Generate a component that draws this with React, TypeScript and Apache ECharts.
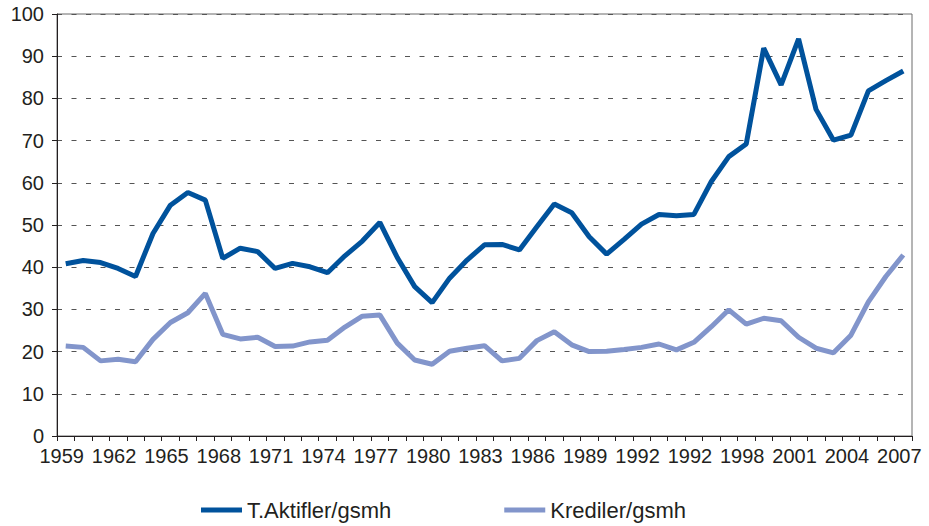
import React, { useEffect, useRef } from "react";
import * as echarts from "echarts";

const years = [
  "1959", "1960", "1961", "1962", "1963", "1964", "1965", "1966", "1967", "1968",
  "1969", "1970", "1971", "1972", "1973", "1974", "1975", "1976", "1977", "1978",
  "1979", "1980", "1981", "1982", "1983", "1984", "1985", "1986", "1987", "1988",
  "1989", "1990", "1991", "1992", "1993", "1994", "1995", "1996", "1997", "1998",
  "1999", "2000", "2001", "2002", "2003", "2004", "2005", "2006", "2007",
];

// Tick labels exactly as printed on the reference (every third year)
const tickLabels = [
  "1959", "1962", "1965", "1968", "1971", "1974", "1977", "1980", "1983",
  "1986", "1989", "1992", "1992", "1998", "2001", "2004", "2007",
];

const aktifler = [
  40.8, 41.6, 41.1, 39.7, 37.8, 48.0, 54.7, 57.7, 55.9, 42.1,
  44.5, 43.7, 39.7, 40.9, 40.1, 38.7, 42.7, 46.2, 50.6, 42.3,
  35.4, 31.6, 37.4, 41.7, 45.3, 45.4, 44.1, 49.6, 55.0, 52.9,
  47.2, 43.1, 46.6, 50.2, 52.5, 52.2, 52.5, 60.3, 66.2, 69.2,
  91.9, 83.2, 94.1, 77.4, 70.1, 71.3, 81.8, 84.2, 86.5,
];

const krediler = [
  21.3, 21.0, 17.8, 18.2, 17.6, 22.9, 26.9, 29.2, 33.8, 24.1,
  23.0, 23.4, 21.2, 21.3, 22.3, 22.7, 25.8, 28.4, 28.7, 22.0,
  18.0, 17.0, 20.1, 20.8, 21.4, 17.8, 18.4, 22.6, 24.7, 21.6,
  20.0, 20.1, 20.5, 21.0, 21.8, 20.4, 22.2, 25.9, 29.9, 26.5,
  27.9, 27.3, 23.4, 20.8, 19.7, 23.9, 31.8, 37.8, 42.9,
];

const seriesNames = ["T.Aktifler/gsmh", "Krediler/gsmh"];

const FONT = "'Liberation Sans', Arial, Helvetica, sans-serif";
const TEXT = "#231f20";
const DARK = "#00529c";
const LIGHT = "#8295cb";

export default function App() {
  const ref = useRef<HTMLDivElement>(null);

  useEffect(() => {
    if (!ref.current) return;
    const chart = echarts.init(ref.current, undefined, { renderer: "svg" });
    chart.setOption({
      animation: false,
      backgroundColor: "#ffffff",
      grid: {
        left: 57,
        right: 17,
        top: 14,
        bottom: 90,
        show: true,
        borderColor: "#6b6b6b",
        borderWidth: 1,
      },
      legend: {
        left: 196,
        top: 494,
        itemWidth: 41,
        itemHeight: 5,
        itemGap: 113,
        icon: "rect",
        textStyle: { fontFamily: FONT, fontSize: 22, color: TEXT },
        data: seriesNames,
      },
      xAxis: {
        type: "category",
        data: years,
        boundaryGap: true,
        axisLine: { lineStyle: { color: TEXT, width: 1 } },
        axisTick: {
          show: true,
          interval: 0,
          length: 5,
          lineStyle: { color: TEXT },
        },
        axisLabel: {
          interval: 2,
          margin: 10,
          fontFamily: FONT,
          fontSize: 20,
          color: TEXT,
          padding: [0, 8, 0, 0],
          formatter: (_v: string, idx: number) => tickLabels[Math.round(idx / 3)] ?? "",
        },
        splitLine: { show: false },
      },
      yAxis: {
        type: "value",
        min: 0,
        max: 100,
        interval: 10,
        axisLine: { show: true, lineStyle: { color: TEXT, width: 1 } },
        axisTick: { show: true, length: 5, lineStyle: { color: TEXT } },
        axisLabel: {
          margin: 13,
          fontFamily: FONT,
          fontSize: 20,
          color: TEXT,
        },
        splitLine: {
          show: true,
          lineStyle: { color: "#555555", type: [5, 9.5], width: 1 },
        },
      },
      series: [
        {
          name: seriesNames[0],
          type: "line",
          data: aktifler,
          symbol: "none",
          lineStyle: { color: DARK, width: 5 },
          itemStyle: { color: DARK },
        },
        {
          name: seriesNames[1],
          type: "line",
          data: krediler,
          symbol: "none",
          lineStyle: { color: LIGHT, width: 5 },
          itemStyle: { color: LIGHT },
        },
      ],
    });
    return () => chart.dispose();
  }, []);

  return <div ref={ref} style={{ width: 929, height: 526, position: "absolute", left: 0, top: 0 }} />;
}
